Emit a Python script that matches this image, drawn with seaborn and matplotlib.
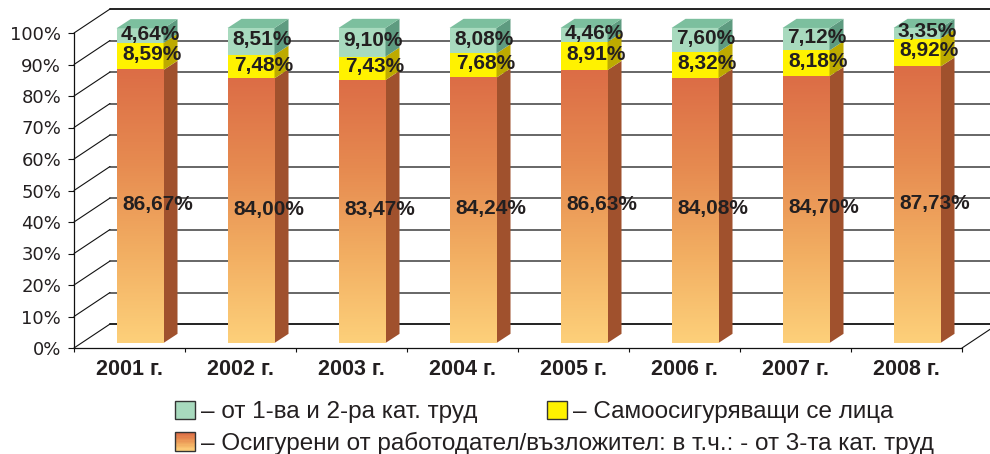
import numpy as np
import pandas as pd
import matplotlib
matplotlib.use("Agg")
import matplotlib.pyplot as plt
import seaborn as sns
from matplotlib.patches import Polygon, Rectangle, Patch
from matplotlib.colors import LinearSegmentedColormap
from matplotlib.legend_handler import HandlerBase

years = ['2001 г.', '2002 г.', '2003 г.', '2004 г.', '2005 г.', '2006 г.', '2007 г.', '2008 г.']
employer = [86.67, 84.00, 83.47, 84.24, 86.63, 84.08, 84.70, 87.73]
self_insured = [8.59, 7.48, 7.43, 7.68, 8.91, 8.32, 8.18, 8.92]
cat12 = [4.64, 8.51, 9.10, 8.08, 4.46, 7.60, 7.12, 3.35]
yticks = list(range(0, 101, 10))

lbl_cat12 = '– от 1-ва и 2-ра кат. труд'
lbl_self = '– Самоосигуряващи се лица'
lbl_employer = '– Осигурени от работодател/възложител: в т.ч.: - от 3-та кат. труд'

TXT = '#231F20'
# fake 3-D geometry (data units: categories / percent)
WALL_DX, WALL_DY = 0.324, 7.6
BAR_DX0, BAR_DY0 = 0.095, 1.6
BAR_DX, BAR_DY = 0.126, 2.9
BAR_W = 0.423

orange_cmap = LinearSegmentedColormap.from_list(
    'orange', ['#FDD07A', '#F2AE62', '#E68A50', '#DC6D46'])

sns.set_style('white')
plt.rcParams['font.family'] = ['DejaVu Sans']
ARIAL = ['Liberation Sans', 'DejaVu Sans']

fig = plt.figure(figsize=(9.9, 4.54), dpi=100)
ax = fig.add_axes([74 / 990, 1 - 348 / 454, 888 / 990, 348 / 454])

# walls: left side diagonals, back grid, floor
x_back0 = -0.5 + WALL_DX
x_back1 = 7.5 + WALL_DX
for v in yticks:
    ax.plot([-0.5, x_back0], [v, v + WALL_DY], color='#111111', lw=0.8, zorder=0.5, clip_on=False)
    col = '#111111' if v in (0, 100) else '#5a5a5a'
    ax.plot([x_back0, x_back1], [v + WALL_DY, v + WALL_DY], color=col, lw=1.3, zorder=0.4, clip_on=False)
ax.plot([7.5, x_back1], [0, WALL_DY], color='#111111', lw=0.8, zorder=0.5, clip_on=False)

df = pd.DataFrame({'pos': np.arange(len(years)) + BAR_DX0,
                   'employer': employer, 'self': self_insured, 'cat12': cat12})

series = [('employer', '#E68A50', '#A0512D', 0.255),
          ('self', '#FFF200', '#BDAA00', 0.205),
          ('cat12', '#A8DABE', '#5E9B80', 0.19)]
base = np.full(len(years), BAR_DY0)
containers = {}
for col, face, side, _ in series:
    sns.barplot(data=df, x='pos', y=col, orient='x', native_scale=True, width=BAR_W,
                color=face, saturation=1, errorbar=None, bottom=base.copy(),
                linewidth=0, edgecolor='none', ax=ax, zorder=2)
    cont = ax.containers[-1]
    containers[col] = cont
    for rect in cont:
        x0, y0 = rect.get_x(), rect.get_y()
        x1, y1 = x0 + rect.get_width(), y0 + rect.get_height()
        ax.add_patch(Polygon([(x1, y0), (x1 + BAR_DX, y0 + BAR_DY),
                              (x1 + BAR_DX, y1 + BAR_DY), (x1, y1)],
                             closed=True, fc=side, ec='none', zorder=2))
    base = base + df[col].to_numpy()

# gradient on the orange front faces
grad = np.linspace(0, 1, 256).reshape(-1, 1)
for rect in containers['employer']:
    x0, y0 = rect.get_x(), rect.get_y()
    ax.imshow(grad, extent=[x0, x0 + rect.get_width(), y0, y0 + rect.get_height()],
              origin='lower', cmap=orange_cmap, aspect='auto', zorder=2.1,
              interpolation='bicubic')

# top faces
for rect in containers['cat12']:
    x0, y1 = rect.get_x(), rect.get_y() + rect.get_height()
    x1 = x0 + rect.get_width()
    ax.add_patch(Polygon([(x0, y1), (x0 + BAR_DX, y1 + BAR_DY),
                          (x1 + BAR_DX, y1 + BAR_DY), (x1, y1)],
                         closed=True, fc='#7CBF9E', ec='none', zorder=2))

# value labels
for col, _, _, dx in series:
    for i, rect in enumerate(containers[col]):
        yc = rect.get_y() + rect.get_height() / 2 + 0.5
        txt = f"{df[col].iloc[i]:.2f}".replace('.', ',') + '%'
        ax.text(i + dx, yc, txt, ha='center', va='center', fontsize=15,
                family=ARIAL, fontweight='bold', color=TXT, zorder=5)

ax.set_xlim(-0.5, 7.5)
ax.set_ylim(0, 348 / 3.15)
ax.set_xlabel('')
ax.set_ylabel('')
ax.set_xticks(range(len(years)))
ax.set_xticklabels(years, fontweight='bold', fontsize=15.5, family=ARIAL, color=TXT)
ax.set_xticks(np.arange(-0.5, len(years), 1), minor=True)
ax.tick_params(axis='x', which='major', length=0, pad=8)
ax.tick_params(axis='x', which='minor', length=3, width=0.8, color='#111111', direction='out', bottom=True)
ax.set_yticks(yticks)
ax.set_yticklabels([f'{v}%' for v in yticks], fontsize=13, color=TXT)
ax.tick_params(axis='y', length=4.3, width=0.8, color='#111111', pad=5, left=True)
for s in ['top', 'right']:
    ax.spines[s].set_visible(False)
ax.spines['left'].set_bounds(0, 100)
for s in ['left', 'bottom']:
    ax.spines[s].set_color('#111111')
    ax.spines[s].set_linewidth(0.9)
ax.patch.set_alpha(0)


class GradientHandler(HandlerBase):
    def create_artists(self, legend, orig_handle, xdescent, ydescent, width, height, fontsize, trans):
        arts = []
        n = 14
        for k in range(n):
            arts.append(Rectangle((-xdescent, -ydescent + height * k / n), width, height / n * 1.05,
                                  fc=orange_cmap(k / (n - 1)), ec='none', transform=trans))
        arts.append(Rectangle((-xdescent, -ydescent), width, height, fc='none',
                              ec='#333333', lw=1, transform=trans))
        return arts


leg_kw = dict(loc='center left', frameon=False, prop={'family': ARIAL, 'size': 17.5},
              handlelength=0.82, handleheight=0.79, handletextpad=0.25, borderpad=0,
              borderaxespad=0, labelcolor=TXT)
fig.legend(handles=[Patch(fc='#A8DABE', ec='#333333', lw=1)], labels=[lbl_cat12],
           bbox_to_anchor=(175 / 990, 1 - 412 / 454), **leg_kw)
fig.legend(handles=[Patch(fc='#FFF200', ec='#333333', lw=1)], labels=[lbl_self],
           bbox_to_anchor=(547 / 990, 1 - 412 / 454), **leg_kw)
grad_handle = Patch(fc='#E68A50')
fig.legend(handles=[grad_handle], labels=[lbl_employer],
           handler_map={grad_handle: GradientHandler()},
           bbox_to_anchor=(175 / 990, 1 - 443.5 / 454), **leg_kw)

fig.savefig('out.png', dpi=100)
